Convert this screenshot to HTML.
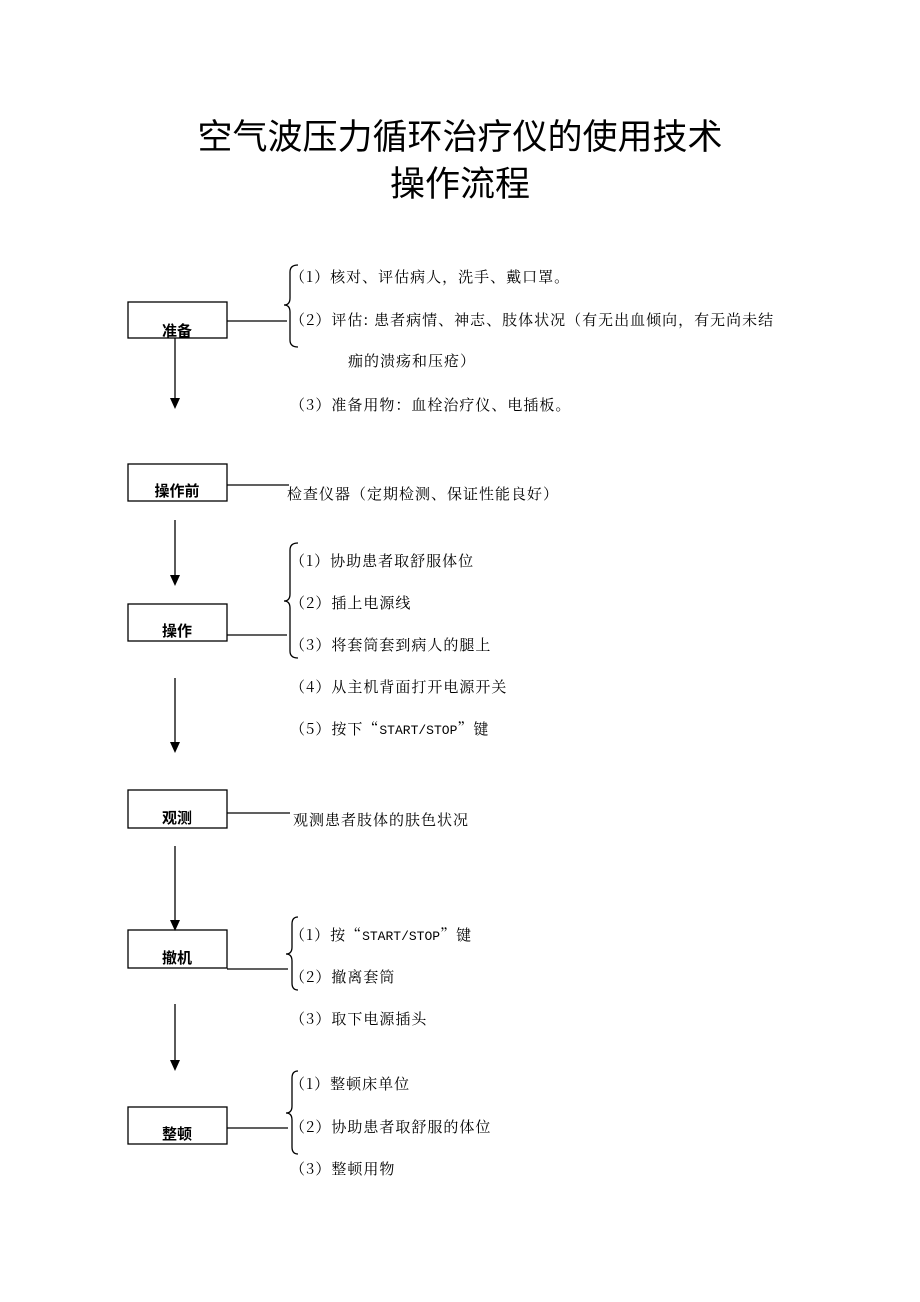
<!DOCTYPE html>
<html><head><meta charset="utf-8"><style>
body{margin:0;background:#fff;}
svg{display:block;}
text{font-family:"Noto Serif CJK SC","Liberation Serif",serif;font-size:15px;fill:#000;letter-spacing:1px;}
.t{font-family:"Liberation Sans","Noto Sans CJK SC",sans-serif;font-size:35px;letter-spacing:0;}
.b{font-family:"Liberation Sans","Noto Sans CJK SC",sans-serif;font-size:15px;font-weight:bold;letter-spacing:0;}
</style></head><body>
<svg width="920" height="1302" viewBox="0 0 920 1302">
<text class="t" x="460" y="149" text-anchor="middle">空气波压力循环治疗仪的使用技术</text>
<text class="t" x="460" y="196" text-anchor="middle">操作流程</text>
<g fill="none" stroke="#000" stroke-width="1.3">
<rect x="128" y="302" width="99" height="36"/>
<rect x="128" y="464" width="99" height="37"/>
<rect x="128" y="604" width="99" height="37"/>
<rect x="128" y="790" width="99" height="38"/>
<rect x="128" y="930" width="99" height="38"/>
<rect x="128" y="1107" width="99" height="37"/>
<line x1="227" y1="321" x2="287" y2="321"/>
<line x1="227" y1="485" x2="289" y2="485"/>
<line x1="227" y1="635" x2="287" y2="635"/>
<line x1="227" y1="813" x2="290" y2="813"/>
<line x1="227" y1="969" x2="288" y2="969"/>
<line x1="227" y1="1128" x2="288" y2="1128"/>
<line x1="175" y1="338" x2="175" y2="400"/>
<line x1="175" y1="520" x2="175" y2="577"/>
<line x1="175" y1="678" x2="175" y2="744"/>
<line x1="175" y1="846" x2="175" y2="922"/>
<line x1="175" y1="1004" x2="175" y2="1062"/>
<path d="M298,265 Q290,265 290,272 L290,298 Q290,305 284,305 Q290,305 290,312 L290,340 Q290,347 298,347"/>
<path d="M298,543 Q290,543 290,550 L290,594 Q290,601 284,601 Q290,601 290,608 L290,651 Q290,658 298,658"/>
<path d="M298,917 Q292,917 292,924 L292,947 Q292,954 286,954 Q292,954 292,961 L292,983 Q292,990 298,990"/>
<path d="M298,1071 Q292,1071 292,1078 L292,1106 Q292,1113 286,1113 Q292,1113 292,1120 L292,1147 Q292,1154 298,1154"/>
</g>
<g fill="#000">
<polygon points="170,398 180,398 175,409"/>
<polygon points="170,575 180,575 175,586"/>
<polygon points="170,742 180,742 175,753"/>
<polygon points="170,920 180,920 175,931"/>
<polygon points="170,1060 180,1060 175,1071"/>
</g>
<text class="b" x="177" y="336" text-anchor="middle">准备</text>
<text class="b" x="177" y="496" text-anchor="middle">操作前</text>
<text class="b" x="177" y="636" text-anchor="middle">操作</text>
<text class="b" x="177" y="823" text-anchor="middle">观测</text>
<text class="b" x="177" y="963" text-anchor="middle">撤机</text>
<text class="b" x="177" y="1139" text-anchor="middle">整顿</text>
<text x="290" y="282">（1）核对、评估病人，洗手、戴口罩。</text>
<text x="290" y="325">（2）评估: 患者病情、神志、肢体状况（有无出血倾向，有无尚未结</text>
<text x="348" y="366">痂的溃疡和压疮）</text>
<text x="290" y="410">（3）准备用物：血栓治疗仪、电插板。</text>
<text x="287" y="499">检查仪器（定期检测、保证性能良好）</text>
<text x="290" y="566">（1）协助患者取舒服体位</text>
<text x="290" y="608">（2）插上电源线</text>
<text x="290" y="650">（3）将套筒套到病人的腿上</text>
<text x="290" y="692">（4）从主机背面打开电源开关</text>
<text x="290" y="734">（5）按下“<tspan font-family="Liberation Mono" font-size="13" letter-spacing="0">START/STOP</tspan>”键</text>
<text x="293" y="825">观测患者肢体的肤色状况</text>
<text x="290" y="940">（1）按“<tspan font-family="Liberation Mono" font-size="13" letter-spacing="0">START/STOP</tspan>”键</text>
<text x="290" y="982">（2）撤离套筒</text>
<text x="290" y="1024">（3）取下电源插头</text>
<text x="290" y="1089">（1）整顿床单位</text>
<text x="290" y="1132">（2）协助患者取舒服的体位</text>
<text x="290" y="1174">（3）整顿用物</text>
</svg>
</body></html>
